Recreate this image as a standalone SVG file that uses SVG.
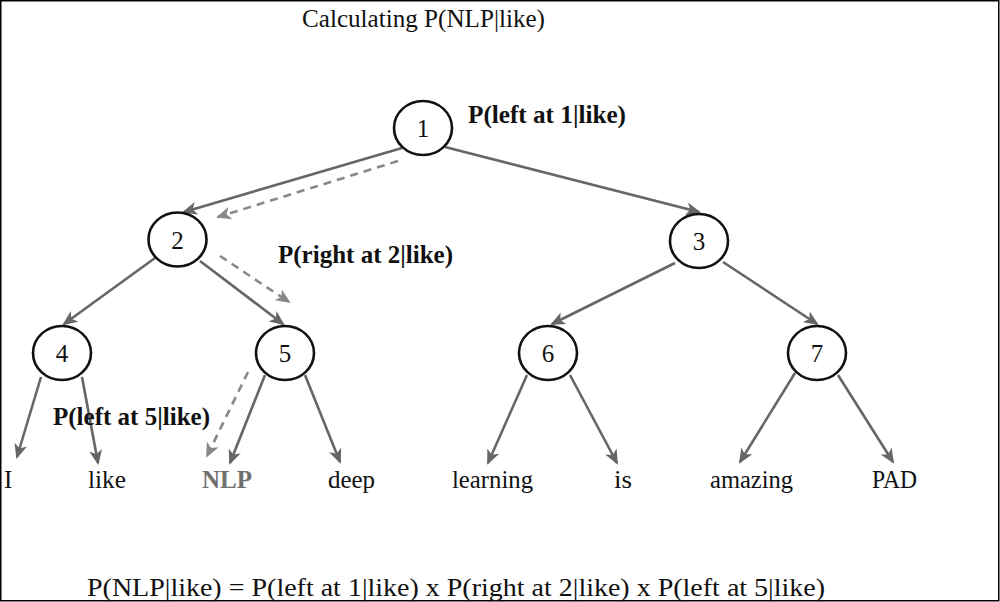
<svg xmlns="http://www.w3.org/2000/svg" width="1000" height="602" viewBox="0 0 1000 602">
<defs>
<style>
.t{font-family:"Liberation Serif","Times New Roman",serif;font-size:25px;fill:#111}
.b{font-weight:bold}
.n{font-family:"Liberation Serif","Times New Roman",serif;font-size:25px;fill:#111;text-anchor:middle}
.node{fill:#fff;stroke:#111;stroke-width:2.6}
.e{stroke:#666;stroke-width:2.6;fill:none;marker-end:url(#ah)}
.d{stroke:#888;stroke-width:2.6;fill:none;stroke-dasharray:8 6;marker-end:url(#ahd)}
</style>
<marker id="ah" viewBox="0 0 15 13" refX="13" refY="6.5" markerWidth="15" markerHeight="13" markerUnits="userSpaceOnUse" orient="auto">
<path d="M0,0 L15,6.5 L0,13 L4,6.5 Z" fill="#666"/>
</marker>
<marker id="ahd" viewBox="0 0 15 13" refX="13" refY="6.5" markerWidth="15" markerHeight="13" markerUnits="userSpaceOnUse" orient="auto">
<path d="M0,0 L15,6.5 L0,13 L4,6.5 Z" fill="#888"/>
</marker>
</defs>
<rect x="0.75" y="0.75" width="998" height="600" fill="#fff" stroke="#000" stroke-width="1.5"/>
<g id="connectors">
<line class="e" x1="402" y1="148" x2="184" y2="212"/>
<line class="d" x1="398" y1="161" x2="218" y2="217"/>
<line class="e" x1="445" y1="147" x2="699" y2="212"/>
<line class="e" x1="155" y1="258" x2="64" y2="324"/>
<line class="e" x1="200" y1="261" x2="283" y2="324"/>
<line class="d" x1="220" y1="256" x2="289" y2="302"/>
<line class="e" x1="675" y1="263" x2="552" y2="324"/>
<line class="e" x1="723" y1="262" x2="817" y2="324"/>
<line class="e" x1="41" y1="377" x2="17" y2="457"/>
<line class="e" x1="82" y1="377" x2="98" y2="463"/>
<line class="d" x1="248" y1="372" x2="207" y2="456"/>
<line class="e" x1="265" y1="375" x2="230" y2="463"/>
<line class="e" x1="305" y1="375" x2="340" y2="462"/>
<line class="e" x1="527" y1="375" x2="488" y2="463"/>
<line class="e" x1="570" y1="375" x2="617" y2="463"/>
<line class="e" x1="795" y1="373" x2="740" y2="462"/>
<line class="e" x1="838" y1="375" x2="893" y2="462"/>
</g>
<g id="node1"><ellipse class="node" cx="423" cy="128" rx="29" ry="27"/><text class="n" x="423" y="137">1</text></g>
<g id="node2"><ellipse class="node" cx="177.5" cy="239.5" rx="29" ry="27"/><text class="n" x="177.5" y="248.5">2</text></g>
<g id="node3"><ellipse class="node" cx="699" cy="241" rx="29" ry="27"/><text class="n" x="699" y="250">3</text></g>
<g id="node4"><ellipse class="node" cx="62" cy="353" rx="29" ry="27"/><text class="n" x="62" y="362">4</text></g>
<g id="node5"><ellipse class="node" cx="285" cy="353" rx="29" ry="27"/><text class="n" x="285" y="362">5</text></g>
<g id="node6"><ellipse class="node" cx="548" cy="353" rx="29" ry="27"/><text class="n" x="548" y="362">6</text></g>
<g id="node7"><ellipse class="node" cx="817" cy="353" rx="29" ry="27"/><text class="n" x="817" y="362">7</text></g>
<g id="labels">
<text class="t" x="302" y="27" textLength="243" lengthAdjust="spacingAndGlyphs">Calculating P(NLP|like)</text>
<text class="t b" x="468" y="123" textLength="158" lengthAdjust="spacingAndGlyphs">P(left at 1|like)</text>
<text class="t b" x="278" y="263" textLength="175" lengthAdjust="spacingAndGlyphs">P(right at 2|like)</text>
<text class="t b" x="53" y="425" textLength="157" lengthAdjust="spacingAndGlyphs">P(left at 5|like)</text>
<text class="t" x="87" y="596" textLength="738" lengthAdjust="spacingAndGlyphs">P(NLP|like) = P(left at 1|like) x P(right at 2|like) x P(left at 5|like)</text>
</g>
<g id="leaves">
<text class="t" x="4" y="488">I</text>
<text class="t" x="88" y="488" textLength="38" lengthAdjust="spacingAndGlyphs">like</text>
<text class="t b" x="202" y="488" textLength="50" lengthAdjust="spacingAndGlyphs" style="fill:#707070">NLP</text>
<text class="t" x="328" y="488" textLength="47" lengthAdjust="spacingAndGlyphs">deep</text>
<text class="t" x="452" y="488" textLength="81" lengthAdjust="spacingAndGlyphs">learning</text>
<text class="t" x="614" y="488" textLength="18" lengthAdjust="spacingAndGlyphs">is</text>
<text class="t" x="710" y="488" textLength="83" lengthAdjust="spacingAndGlyphs">amazing</text>
<text class="t" x="872" y="488" textLength="45" lengthAdjust="spacingAndGlyphs">PAD</text>
</g>
</svg>
